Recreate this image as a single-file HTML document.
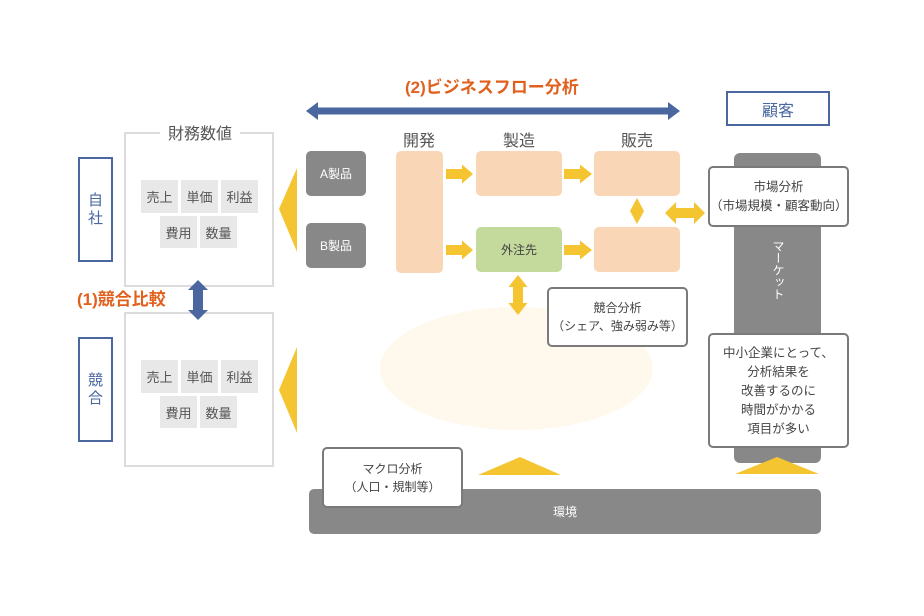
<!DOCTYPE html>
<html><head><meta charset="utf-8">
<style>
*{margin:0;padding:0;box-sizing:border-box;}
body{width:924px;height:616px;background:#fff;position:relative;overflow:hidden;font-family:"Liberation Sans","Noto Sans CJK JP",sans-serif;}
.a{position:absolute;}
.c{display:flex;align-items:center;justify-content:center;text-align:center;}
.cell{position:absolute;background:#e8e8e8;color:#555;font-size:13px;display:flex;align-items:center;justify-content:center;}
.fin{position:absolute;border:2px solid #dcdcdc;}
.side{position:absolute;border:2px solid #4a67a0;color:#4a67a0;font-size:15px;display:flex;align-items:center;justify-content:center;line-height:1.15;}
.gbox{position:absolute;background:#888;border-radius:5px;color:#fff;font-size:12px;display:flex;align-items:center;justify-content:center;}
.peach{position:absolute;background:#f9d6b6;border-radius:5px;}
.wbox{position:absolute;background:#fff;border:2px solid #7a7a7a;border-radius:5px;color:#444;font-size:12px;display:flex;flex-direction:column;align-items:center;justify-content:center;text-align:center;}
.lbl{position:absolute;color:#555;font-size:16px;transform:translateX(-50%);white-space:nowrap;}
</style></head><body>

<svg class="a" style="left:0;top:0" width="924" height="616">
<ellipse cx="516.5" cy="368.5" rx="136.5" ry="61.5" fill="#fef9ec"/>
</svg>

<div class="fin" style="left:124px;top:132px;width:150px;height:155px;"></div>
<div class="a" style="left:160px;top:125px;width:80px;background:#fff;color:#555;font-size:16px;text-align:center;line-height:20px;">財務数値</div>
<div class="cell" style="left:141px;top:180px;width:37px;height:33px;">売上</div>
<div class="cell" style="left:181px;top:180px;width:37px;height:33px;">単価</div>
<div class="cell" style="left:221px;top:180px;width:37px;height:33px;">利益</div>
<div class="cell" style="left:160px;top:216px;width:37px;height:32px;">費用</div>
<div class="cell" style="left:200px;top:216px;width:37px;height:32px;">数量</div>

<div class="fin" style="left:124px;top:312px;width:150px;height:155px;"></div>
<div class="cell" style="left:141px;top:360px;width:37px;height:33px;">売上</div>
<div class="cell" style="left:181px;top:360px;width:37px;height:33px;">単価</div>
<div class="cell" style="left:221px;top:360px;width:37px;height:33px;">利益</div>
<div class="cell" style="left:160px;top:396px;width:37px;height:32px;">費用</div>
<div class="cell" style="left:200px;top:396px;width:37px;height:32px;">数量</div>

<div class="side" style="left:78px;top:157px;width:35px;height:105px;">自<br>社</div>
<div class="side" style="left:78px;top:337px;width:35px;height:105px;">競<br>合</div>

<div class="a" style="left:77px;top:289px;color:#e2601d;font-size:17px;font-weight:bold;line-height:22px;white-space:nowrap;">(1)競合比較</div>
<div class="a" style="left:405px;top:77px;color:#e2601d;font-size:17px;font-weight:bold;line-height:22px;white-space:nowrap;">(2)ビジネスフロー分析</div>

<div class="gbox" style="left:306px;top:151px;width:60px;height:45px;">A製品</div>
<div class="gbox" style="left:306px;top:223px;width:60px;height:45px;">B製品</div>

<div class="lbl" style="left:419px;top:127px;">開発</div>
<div class="lbl" style="left:519px;top:127px;">製造</div>
<div class="lbl" style="left:637px;top:127px;">販売</div>

<div class="peach" style="left:396px;top:151px;width:47px;height:122px;"></div>
<div class="peach" style="left:476px;top:151px;width:86px;height:45px;"></div>
<div class="a c" style="left:476px;top:227px;width:86px;height:45px;background:#c4d99c;border-radius:5px;color:#444;font-size:12px;">外注先</div>
<div class="peach" style="left:594px;top:151px;width:86px;height:45px;"></div>
<div class="peach" style="left:594px;top:227px;width:86px;height:45px;"></div>

<div class="a" style="left:734px;top:153px;width:87px;height:310px;background:#888;border-radius:6px;"></div>
<div class="a" style="left:769px;top:240px;width:16px;color:#fff;font-size:12px;line-height:15px;text-align:center;writing-mode:vertical-rl;">マーケット</div>

<div class="a c" style="left:309px;top:489px;width:512px;height:45px;background:#888;border-radius:5px;color:#fff;font-size:12px;">環境</div>

<div class="a c" style="left:726px;top:91px;width:104px;height:35px;border:2px solid #4a67a0;color:#4a67a0;font-size:16px;">顧客</div>

<div class="wbox" style="left:708px;top:166px;width:141px;height:61px;line-height:19px;font-size:12.5px;"><div>市場分析</div><div>（市場規模・顧客動向）</div></div>
<div class="wbox" style="left:708px;top:333px;width:141px;height:115px;line-height:19px;padding-top:2px;font-size:12.5px;"><div>中小企業にとって、</div><div>分析結果を</div><div>改善するのに</div><div>時間がかかる</div><div>項目が多い</div></div>
<div class="wbox" style="left:547px;top:287px;width:141px;height:60px;line-height:18px;"><div>競合分析</div><div>（シェア、強み弱み等）</div></div>
<div class="wbox" style="left:322px;top:447px;width:141px;height:61px;line-height:18px;"><div>マクロ分析</div><div>（人口・規制等）</div></div>

<svg class="a" style="left:0;top:0" width="924" height="616">
<g fill="#4a67a0">
<polygon points="306,111 318,102 318,107.5 668,107.5 668,102 680,111 668,120 668,114.5 318,114.5 318,120"/>
<polygon points="198,280 208,290 203,290 203,310 208,310 198,320 188,310 193,310 193,290 188,290"/>
</g>
<g fill="#f5c431">
<polygon points="279,209 297,168 297,252"/>
<polygon points="279,390 297,347 297,433"/>
<polygon points="446,169 462,169 462,164.5 473,174 462,183.5 462,179 446,179"/>
<polygon points="564,169 580,169 580,164.5 592,174 580,183.5 580,179 564,179"/>
<polygon points="446,245 462,245 462,240.5 473,250 462,259.5 462,255 446,255"/>
<polygon points="564,245 580,245 580,240.5 592,250 580,259.5 580,255 564,255"/>
<polygon points="637,198 644,211 637,224 630,211"/>
<polygon points="665,213 676,202 676,208 694,208 694,202 705,213 694,224 694,218 676,218 676,224"/>
<polygon points="518,275 527.5,287 523,287 523,303 527.5,303 518,315 508.5,303 513,303 513,287 508.5,287"/>
<polygon points="520,457 561,475 478,475"/>
<polygon points="777,457 819,474 735,474"/>
</g>
</svg>

</body></html>
